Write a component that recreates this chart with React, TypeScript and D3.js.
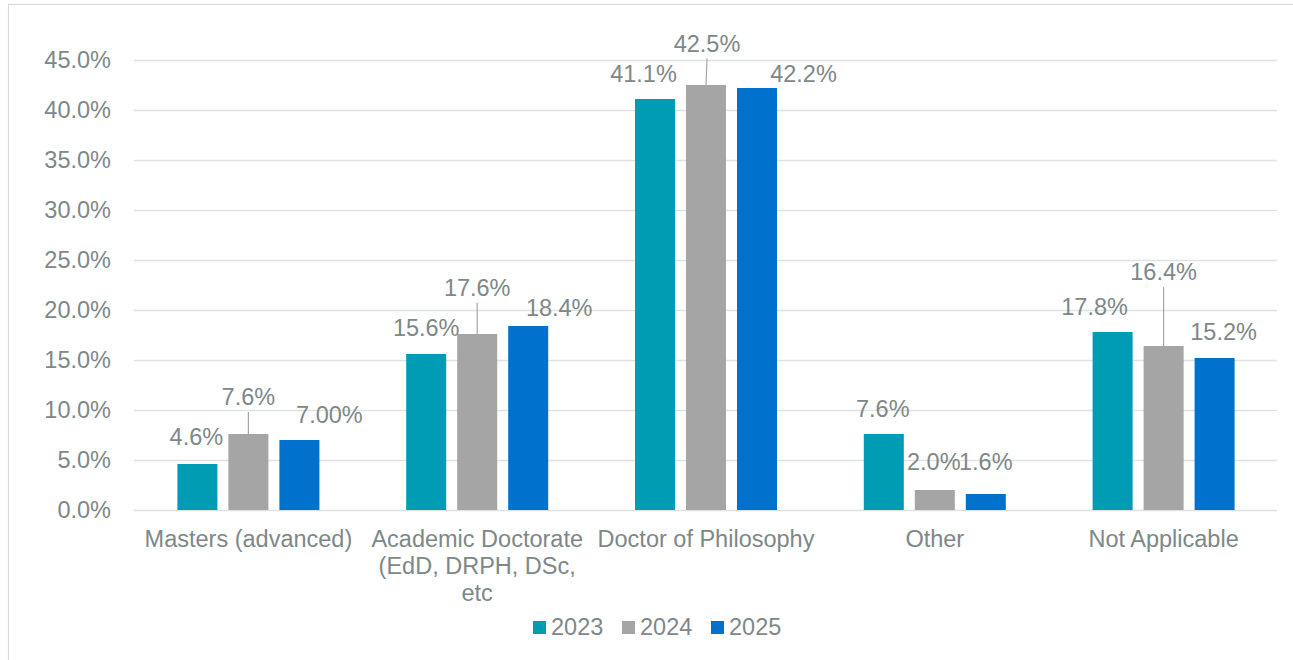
import React from "react";
import * as d3 from "d3";

const categories = [
  "Masters (advanced)",
  "Academic Doctorate (EdD, DRPH, DSc, etc",
  "Doctor of Philosophy",
  "Other",
  "Not Applicable",
];
const seriesNames = ["2023", "2024", "2025"];
const values2023 = [4.6, 15.6, 41.1, 7.6, 17.8];
const values2024 = [7.6, 17.6, 42.5, 2.0, 16.4];
const values2025 = [7.0, 18.4, 42.2, 1.6, 15.2];
const labels2023 = ["4.6%", "15.6%", "41.1%", "7.6%", "17.8%"];
const labels2024 = ["7.6%", "17.6%", "42.5%", "2.0%", "16.4%"];
const labels2025 = ["7.00%", "18.4%", "42.2%", "1.6%", "15.2%"];
const yTicks = [0, 5, 10, 15, 20, 25, 30, 35, 40, 45];

// label placement offsets (dx, dy) relative to bar top-centre, and leader-line flags
const labelOffsets2023 = [[-1, -27], [0, -26.5], [-11.5, -25.5], [-1, -25.5], [-18, -25.5]];
const labelOffsets2024 = [[0, -37], [0, -46], [1, -41.5], [-1, -28], [0, -74]];
const labelOffsets2025 = [[30, -25.5], [31, -18], [46.5, -14.5], [0, -32], [9, -26]];
const leader2024 = [true, true, true, false, true];

const colors = ["#009CB4", "#A5A5A5", "#0072CE"];
const textColor = "#7E8888";
const gridColor = "#DFE2E2";
const FONT = "'Liberation Sans', Arial, sans-serif";
const FS = 23.5;

function wrap(text: string, maxW: number): string[] {
  const canvas = document.createElement("canvas");
  const ctx = canvas.getContext("2d")!;
  ctx.font = `${FS}px 'Liberation Sans'`;
  const words = text.split(" ");
  const lines: string[] = [];
  let cur = "";
  for (const w of words) {
    const t = cur ? cur + " " + w : w;
    if (ctx.measureText(t).width > maxW && cur) {
      lines.push(cur);
      cur = w;
    } else cur = t;
  }
  if (cur) lines.push(cur);
  return lines;
}

export default function App() {
  const W = 1293, H = 660;
  const left = 134, right = 1278, top = 60, bottom = 510;
  const x = d3.scaleBand<string>().domain(categories).range([left, right]).paddingInner(0).paddingOuter(0);
  const y = d3.scaleLinear().domain([0, 45]).range([bottom, top]);
  const barW = 40, gap = 11;
  const xs = d3.scaleBand<string>().domain(seriesNames).range([0, barW * 3 + gap * 2]).paddingInner(gap / (barW + gap));
  const groupW = barW * 3 + gap * 2;

  const series = [
    { name: "2023", vals: values2023, labels: labels2023, offs: labelOffsets2023, leader: [false, false, false, false, false] },
    { name: "2024", vals: values2024, labels: labels2024, offs: labelOffsets2024, leader: leader2024 },
    { name: "2025", vals: values2025, labels: labels2025, offs: labelOffsets2025, leader: [false, false, false, false, false] },
  ];

  const legendItems = [
    { name: "2023", sx: 533, tx: 551 },
    { name: "2024", sx: 622, tx: 640 },
    { name: "2025", sx: 711, tx: 729 },
  ];

  return (
    <div style={{ position: "absolute", left: 0, top: 0 }}>
      <svg width={W} height={H} style={{ display: "block", background: "#fff" }} fontFamily={FONT}>
        <rect x={8.5} y={4.5} width={1400} height={800} fill="#fff" stroke="#D9D9D9" strokeWidth={1.2} />
        {yTicks.map((t) => (
          <g key={t}>
            <line x1={left} x2={right - 1} y1={Math.round(y(t)) + 0.5} y2={Math.round(y(t)) + 0.5} stroke={gridColor} strokeWidth={1.6} />
            <text x={111} y={y(t) + 8} textAnchor="end" fontSize={FS} fill={textColor}>
              {t.toFixed(1)}%
            </text>
          </g>
        ))}
        {series.map((s, si) =>
          categories.map((c, ci) => {
            const gx = (x(c) as number) + x.bandwidth() / 2 - groupW / 2 + (xs(s.name) as number);
            const v = s.vals[ci];
            return (
              <rect key={s.name + c} x={gx} y={y(v)} width={xs.bandwidth()} height={y(0) - y(v)} fill={colors[si]} />
            );
          })
        )}
        {series.map((s, si) =>
          categories.map((c, ci) => {
            const cx = (x(c) as number) + x.bandwidth() / 2 - groupW / 2 + (xs(s.name) as number) + xs.bandwidth() / 2;
            const v = s.vals[ci];
            const [dx, dy] = s.offs[ci];
            const lx = cx + dx, ly = y(v) + dy;
            return (
              <g key={"l" + s.name + c}>
                {s.leader[ci] && (
                  <line x1={lx} y1={ly + 15} x2={cx} y2={y(v)} stroke="#A6A6A6" strokeWidth={1.2} />
                )}
                <text x={lx} y={ly + 8} textAnchor="middle" fontSize={FS} fill={textColor}>
                  {s.labels[ci]}
                </text>
              </g>
            );
          })
        )}
        {categories.map((c) => {
          const lines = wrap(c, 222);
          const cx = (x(c) as number) + x.bandwidth() / 2;
          return (
            <text key={"c" + c} x={cx} y={547} textAnchor="middle" fontSize={FS} fill={textColor}>
              {lines.map((l, i) => (
                <tspan key={i} x={cx} dy={i === 0 ? 0 : 27}>
                  {l}
                </tspan>
              ))}
            </text>
          );
        })}
        {legendItems.map((l, i) => (
          <g key={l.name}>
            <rect x={l.sx} y={621} width={13} height={13} fill={colors[i]} />
            <text x={l.tx} y={635} fontSize={FS} fill={textColor}>
              {l.name}
            </text>
          </g>
        ))}
      </svg>
    </div>
  );
}
